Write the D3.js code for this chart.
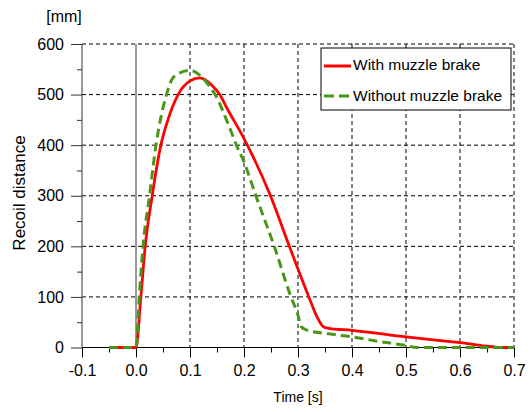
<!DOCTYPE html>
<html>
<head>
<meta charset="utf-8">
<script src="https://cdn.jsdelivr.net/npm/d3@7"></script>
<style>
  body { margin: 0; background: #fff; }
  text { font-family: "Liberation Sans", Arial, sans-serif; }
</style>
</head>
<body>
<svg id="chart" width="531" height="412"></svg>
<script>
// recoil distance [mm] over time [s]
var withBrakeT = [-0.05, 0.0, 0.009, 0.017, 0.03, 0.046, 0.06, 0.078, 0.1, 0.118, 0.14, 0.155, 0.17, 0.2, 0.249, 0.284, 0.32, 0.335, 0.347, 0.357, 0.4, 0.5, 0.6, 0.68, 0.7];
var withBrakeY = [0, 0, 100, 200, 300, 400, 453, 500, 527, 533, 519, 500, 470, 413, 300, 200, 100, 61, 41, 38, 34, 21, 9.5, 0, 0];

var withoutBrakeT = [-0.05, 0.0, 0.006, 0.013, 0.025, 0.037, 0.0565, 0.07, 0.1, 0.115, 0.13, 0.1465, 0.175, 0.186, 0.2, 0.222, 0.256, 0.287, 0.3, 0.306, 0.315, 0.357, 0.4, 0.45, 0.5, 0.52, 0.7];
var withoutBrakeY = [0, 0, 100, 200, 300, 400, 500, 535, 548, 541, 525, 500, 430, 400, 367, 300, 200, 100, 64, 41, 35, 27, 21, 12, 4, 0, 0];

var xTicks = [-0.1, 0.0, 0.1, 0.2, 0.3, 0.4, 0.5, 0.6, 0.7];
var yTicks = [0, 100, 200, 300, 400, 500, 600];
var legendNames = ["With muzzle brake", "Without muzzle brake"];

var svg = d3.select("#chart");
var margin = {top: 44, right: 17, bottom: 64.5, left: 82};
var w = 531 - margin.left - margin.right;
var h = 412 - margin.top - margin.bottom;

var x = d3.scaleLinear().domain([-0.1, 0.7]).range([0, w]);
var y = d3.scaleLinear().domain([0, 600]).range([h, 0]);

var g = svg.append("g").attr("transform", "translate(" + margin.left + "," + margin.top + ")");

// dashed grid
g.selectAll(".vgrid")
	.data(xTicks.filter(d => d > 0.05))
	.enter().append("line")
	.attr("x1", d => x(d)).attr("x2", d => x(d))
	.attr("y1", 0).attr("y2", h)
	.style("stroke", "#000").style("stroke-width", 1)
	.style("stroke-dasharray", "4,3");
g.selectAll(".hgrid")
	.data(yTicks.filter(d => d > 0))
	.enter().append("line")
	.attr("x1", 0).attr("x2", w)
	.attr("y1", d => y(d)).attr("y2", d => y(d))
	.style("stroke", "#000").style("stroke-width", 1)
	.style("stroke-dasharray", "4,3");

// solid line at t = 0
g.append("line")
	.attr("x1", x(0)).attr("x2", x(0))
	.attr("y1", 0).attr("y2", h)
	.style("stroke", "#555").style("stroke-width", 1.2);

// y axis
var yAxis = g.append("g")
	.call(d3.axisLeft(y).tickValues(yTicks).tickSize(11).tickPadding(7).tickFormat(d3.format("d")));
yAxis.select(".domain").attr("d", "M0," + h + "V0").style("stroke", "#555").style("stroke-width", 1.2);
yAxis.selectAll(".tick line").style("stroke", "#333");
yAxis.selectAll("text").style("font-size", "16px").style("fill", "#000");
g.append("g")
	.call(d3.axisLeft(y).tickValues(d3.range(50, 600, 100)).tickSize(5).tickFormat(""))
	.call(a => a.select(".domain").remove())
	.selectAll(".tick line").style("stroke", "#333");

// x axis
var xAxis = g.append("g")
	.attr("transform", "translate(0," + h + ")")
	.call(d3.axisBottom(x).tickValues(xTicks).tickSize(10).tickPadding(7).tickFormat(d => d.toFixed(1)));
xAxis.select(".domain").attr("d", "M0,0H" + w).style("stroke", "#000").style("stroke-width", 1.2);
xAxis.selectAll("text").style("font-size", "16px").style("fill", "#000");
g.append("g")
	.attr("transform", "translate(0," + h + ")")
	.call(d3.axisBottom(x).tickValues(d3.range(-0.05, 0.7, 0.1)).tickSize(5).tickFormat(""))
	.call(a => a.select(".domain").remove());

// curves
var line = d3.line()
	.x(d => x(d[0]))
	.y(d => y(d[1]))
	.curve(d3.curveMonotoneX);

g.append("path")
	.datum(d3.zip(withBrakeT, withBrakeY))
	.attr("d", line)
	.style("fill", "none")
	.style("stroke", "#ff0000")
	.style("stroke-width", 2.8);

g.append("path")
	.datum(d3.zip(withoutBrakeT, withoutBrakeY))
	.attr("d", line)
	.style("fill", "none")
	.style("stroke", "#4a9619")
	.style("stroke-width", 3)
	.style("stroke-dasharray", "9,5");

// labels
svg.append("text")
	.attr("x", 64).attr("y", 22)
	.attr("text-anchor", "middle")
	.style("font-size", "16px")
	.text("[mm]");

svg.append("text")
	.attr("transform", "translate(25,193) rotate(-90)")
	.attr("text-anchor", "middle")
	.style("font-size", "17px")
	.text("Recoil distance");

svg.append("text")
	.attr("x", 298).attr("y", 402)
	.attr("text-anchor", "middle")
	.style("font-size", "14px")
	.text("Time [s]");

// legend
var legend = svg.append("g");
legend.append("rect")
	.attr("x", 321).attr("y", 48)
	.attr("width", 190).attr("height", 62)
	.style("fill", "#fff").style("stroke", "#000").style("stroke-width", 1);

var colors = ["#ff0000", "#4a9619"];
var dashes = [null, "10,5"];
legendNames.forEach(function (name, i) {
	var ly = 66 + i * 30;
	legend.append("line")
		.attr("x1", 324).attr("x2", 351)
		.attr("y1", ly).attr("y2", ly)
		.style("stroke", colors[i])
		.style("stroke-width", 3)
		.style("stroke-dasharray", dashes[i]);
	legend.append("text")
		.attr("x", 353).attr("y", ly + 4 + i)
		.style("font-size", "15.5px")
		.text(name);
});
</script>
</body>
</html>
